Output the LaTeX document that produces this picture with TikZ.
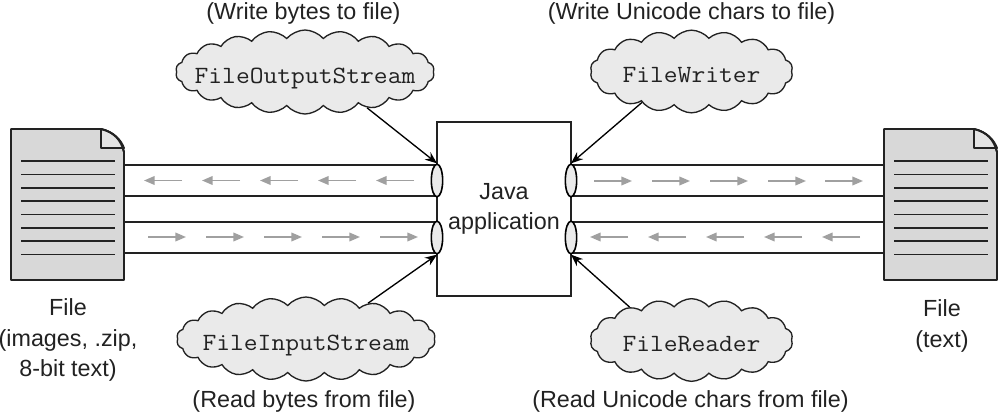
\documentclass[tikz,border=0pt]{standalone}
\usepackage{fontspec}
\setmainfont{Liberation Sans}
\setmonofont{Latin Modern Mono}[FakeStretch=1.08]
\usetikzlibrary{shapes.symbols,shapes.geometric,arrows.meta}
\definecolor{ink}{HTML}{222222}
\definecolor{docfill}{HTML}{D8D8D8}
\definecolor{cloudfill}{HTML}{EAEAEA}
\definecolor{flow}{HTML}{A0A0A0}
\newcommand{\cloudtext}[1]{\makebox[0pt]{\smash{\raisebox{-8.5pt}{#1}}}}
\tikzset{
  x=0.75pt,y=-0.75pt,
  lab/.style={font=\fontsize{17.5}{22.8}\selectfont,text=ink,align=center,inner sep=0pt},
  cloudbox/.style={cloud,draw=ink,fill=cloudfill,line width=1pt,cloud puffs=#1,cloud puff arc=100,inner sep=0pt,font=\ttfamily\fontsize{18.6}{20}\selectfont,text=ink},
  pipe/.style={draw=ink,line width=1.5pt},
  portal/.style={ellipse,draw=black,fill=cloudfill,line width=1.2pt,minimum width=8.5pt,minimum height=24.5pt,inner sep=0pt},
  callout/.style={draw=black,line width=1pt,-{Stealth[length=9pt,width=7pt]}},
  flowarrow/.style={draw=flow,line width=1.2pt,-{Stealth[length=8pt,width=6.5pt,inset=0pt]}},
  docbody/.style={draw=ink,fill=docfill,line width=1.4pt,line join=round},
  docline/.style={draw=ink,line width=1.2pt},
}
\newcommand{\docshape}[1]{%
  \begin{scope}[shift={(#1,0)}]
    \path[docbody] (0,129) -- (90,129) .. controls (103,132) and (110,140) .. (113,152) -- (113,280) -- (0,280) -- cycle;
    \path[docbody,fill=docfill!70!white] (90,129) .. controls (103,132) and (110,140) .. (113,148) -- (90,148) -- cycle;
    \path[draw=ink,line width=1.4pt] (90,129) .. controls (103,132) and (110,140) .. (113,152);
    \foreach \yy in {161,174.5,188,201,214.5,228,241,254.5}
      \path[docline] (10,\yy) -- (104,\yy);
  \end{scope}}
\begin{document}
\begin{tikzpicture}
\path[use as bounding box,fill=white] (0,0) rectangle (1000,414);
\coordinate (lt1) at (124,165);
\coordinate (lt2) at (124,196);
\coordinate (lb1) at (124,222);
\coordinate (lb2) at (124,253);
\coordinate (rt1) at (884,165);
\coordinate (rt2) at (884,196);
\coordinate (rb1) at (884,222);
\coordinate (rb2) at (884,253);
\node[draw=ink,line width=1.4pt,fill=white,minimum width=100.5pt,minimum height=130.5pt,inner sep=0pt] (app) at (504,209) {};
\node[lab] (apptext) at (504,209) {Java\\application};
\coordinate (alt1) at (437,165);
\coordinate (alt2) at (437,196);
\coordinate (alb1) at (437,222);
\coordinate (alb2) at (437,253);
\coordinate (art1) at (571,165);
\coordinate (art2) at (571,196);
\coordinate (arb1) at (571,222);
\coordinate (arb2) at (571,253);
\foreach \a/\b in {lt1/alt1,lt2/alt2,lb1/alb1,lb2/alb2,art1/rt1,art2/rt2,arb1/rb1,arb2/rb2}
  \draw[pipe] (\a) -- (\b);
\docshape{11}
\docshape{884}
\node[portal] (pa) at (437,180.5) {};
\node[portal] (pb) at (437,237.5) {};
\node[portal] (pc) at (571,180.5) {};
\node[portal] (pd) at (571,237.5) {};
\foreach \s in {182,240,298,356,414} {
  \coordinate (fa\s) at (\s,180.5); \coordinate (fb\s) at (\s-38,180.5);
  \draw[flowarrow] (fa\s) -- (fb\s);}
\foreach \s in {148,206,264,322,380} {
  \coordinate (fa\s) at (\s,237); \coordinate (fb\s) at (\s+38,237);
  \draw[flowarrow] (fa\s) -- (fb\s);}
\foreach \s in {594,652,710,768,825} {
  \coordinate (fa\s) at (\s,181); \coordinate (fb\s) at (\s+38,181);
  \draw[flowarrow] (fa\s) -- (fb\s);}
\foreach \s in {628,686,744,802,860} {
  \coordinate (fa\s) at (\s,237); \coordinate (fb\s) at (\s-38,237);
  \draw[flowarrow] (fa\s) -- (fb\s);}
\node[cloudbox=22,minimum width=194pt,minimum height=63pt] (c1) at (305,72) {\cloudtext{FileOutputStream}};
\node[cloudbox=18,minimum width=152pt,minimum height=62pt] (c2) at (691.5,71.5) {\cloudtext{FileWriter}};
\node[cloudbox=22,minimum width=194pt,minimum height=63pt] (c3) at (306,339) {\cloudtext{FileInputStream}};
\node[cloudbox=18,minimum width=152pt,minimum height=62pt] (c4) at (691.5,340) {\cloudtext{FileReader}};
\draw[callout] (c1.-30) -- (pa.north);
\draw[callout] (c2.-148) -- (pc.north);
\draw[callout] (c3.30) -- (pb.south);
\draw[callout] (c4.152) -- (pd.south);
\node[lab] (t1) at (303.5,13.5) {(Write bytes to file)};
\node[lab] (t2) at (691.5,13.5) {(Write Unicode chars to file)};
\node[lab] (t3) at (304,401) {(Read bytes from file)};
\node[lab] (t4) at (690.5,401) {(Read Unicode chars from file)};
\node[lab] (t5) at (68,340) {File\\(images, .zip,\\8-bit text)};
\node[lab] (t6) at (942,326) {File\\(text)};
\end{tikzpicture}
\end{document}
